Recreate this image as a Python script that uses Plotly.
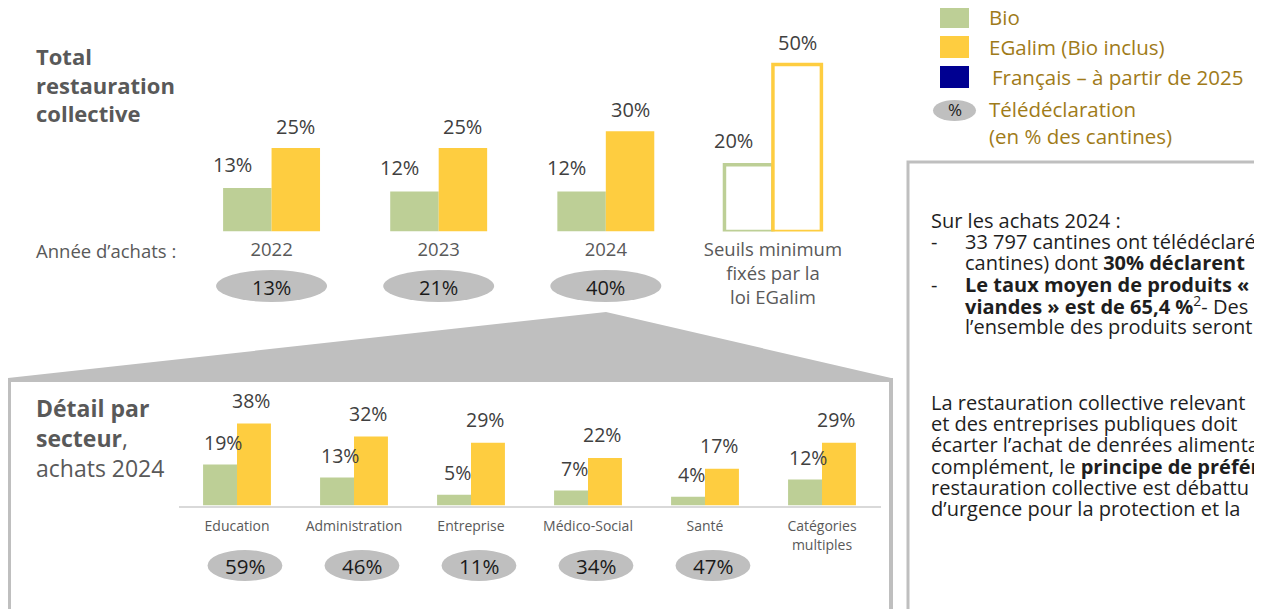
import plotly.graph_objects as go

# the page puts the figure 8px in from the top-left corner
OFF = 8
W, H = 1262 - OFF, 609 - OFF

# --- data ---
years = ["2022", "2023", "2024", "Seuils"]
year_labels = ["2022", "2023", "2024", "Seuils minimum<br>fixés par la<br>loi EGalim"]
bio_total = [13, 12, 12, 20]
egalim_total = [25, 25, 30, 50]
teledecl_total = [13, 21, 40]

sectors = ["Education", "Administration", "Entreprise", "Médico-Social", "Santé", "Catégories multiples"]
sector_labels = ["Education", "Administration", "Entreprise", "Médico-Social", "Santé", "Catégories<br>multiples"]
bio_sector = [19, 13, 5, 7, 4, 12]
egalim_sector = [38, 32, 29, 22, 17, 29]
teledecl_sector = [59, 46, 11, 34, 47]

legend_labels = ["Bio", "EGalim (Bio inclus)", "Français – à partir de 2025"]

GREEN = "#bdcf96"
YELLOW = "#fecd40"
NAVY = "#000091"
GREY = "#bfbfbf"
DARK = "#404040"
MID = "#595959"
GOLD = "#a07b19"
FONT = "Open Sans"


def px(x):
    return (x - OFF) / W


def py(y):
    return 1 - (y - OFF) / H


def note(x, y, text, size, color, xanchor="left", **kw):
    return dict(x=px(x), y=py(y), xref="paper", yref="paper", xanchor=xanchor, yanchor="middle",
                text=text, showarrow=False, font=dict(size=size, color=color), **kw)


fig = go.Figure()

# top chart: totals (last group = legal thresholds, drawn as outlines)
fill_bio = [GREEN] * 3 + ["white"]
fill_eg = [YELLOW] * 3 + ["white"]
fig.add_trace(go.Bar(x=years, y=bio_total, marker=dict(color=fill_bio, line=dict(color=GREEN, width=[0, 0, 0, 3.5])),
                     xaxis="x", yaxis="y", hoverinfo="skip"))
fig.add_trace(go.Bar(x=years, y=egalim_total, marker=dict(color=fill_eg, line=dict(color=YELLOW, width=[0, 0, 0, 3.5])),
                     xaxis="x", yaxis="y", hoverinfo="skip"))

# bottom chart: by sector
fig.add_trace(go.Bar(x=sectors, y=bio_sector, marker=dict(color=GREEN, line=dict(width=0)),
                     xaxis="x2", yaxis="y2", hoverinfo="skip"))
fig.add_trace(go.Bar(x=sectors, y=egalim_sector, marker=dict(color=YELLOW, line=dict(width=0)),
                     xaxis="x2", yaxis="y2", hoverinfo="skip"))

ann = []
shapes = []

# value labels, top
for i, v in enumerate(bio_total):
    ann.append(dict(x=i - 0.145, y=v, xref="x", yref="y", xanchor="center", yanchor="middle", text=f"{v}%",
                    showarrow=False, xshift=-15, yshift=24, font=dict(size=20, color=DARK)))
for i, v in enumerate(egalim_total):
    ann.append(dict(x=i + 0.145, y=v, xref="x", yref="y", xanchor="center", yanchor="middle", text=f"{v}%",
                    showarrow=False, yshift=22, font=dict(size=20, color=DARK)))

# value labels, bottom
for i, v in enumerate(bio_sector):
    ann.append(dict(x=i - 0.1175, y=v, xref="x2", yref="y2", xanchor="center", yanchor="middle", text=f"{v}%",
                    showarrow=False, yshift=22, font=dict(size=19.5, color=DARK)))
for i, v in enumerate(egalim_sector):
    ann.append(dict(x=i + 0.1175, y=v, xref="x2", yref="y2", xanchor="center", yanchor="middle", text=f"{v}%",
                    showarrow=False, yshift=23, font=dict(size=19.5, color=DARK)))

# connector band + detail box
path = "M {} {} L {} {} L {} {} L {} {} L {} {} Z".format(
    px(8), py(378), px(606), py(312), px(891), py(378), px(891), py(388), px(8), py(388))
shapes.append(dict(type="path", path=path, xref="paper", yref="paper", fillcolor=GREY, line=dict(width=0), layer="below"))
shapes.append(dict(type="rect", xref="paper", yref="paper", x0=px(9), x1=px(891), y0=py(380), y1=py(640),
                   fillcolor="white", line=dict(color=GREY, width=4), layer="below"))

# right text box
shapes.append(dict(type="rect", xref="paper", yref="paper", x0=px(908), x1=px(1290), y0=py(162), y1=py(640),
                   fillcolor="white", line=dict(color=GREY, width=3), layer="below"))

# télédéclaration ellipses, top
for i, v in enumerate(teledecl_total):
    shapes.append(dict(type="circle", xref="x", yref="paper", x0=i - 0.332, x1=i + 0.332,
                       y0=py(302), y1=py(270), fillcolor=GREY, line=dict(width=0)))
    ann.append(dict(x=i, y=py(287), xref="x", yref="paper", xanchor="center", yanchor="middle", text=f"{v}%",
                    showarrow=False, font=dict(size=20, color="#1a1a1a")))

# télédéclaration ellipses, bottom
for i, v in enumerate(teledecl_sector):
    c = i + 0.068
    shapes.append(dict(type="circle", xref="x2", yref="paper", x0=c - 0.32, x1=c + 0.32,
                       y0=py(581), y1=py(550), fillcolor=GREY, line=dict(width=0)))
    ann.append(dict(x=c, y=py(566), xref="x2", yref="paper", xanchor="center", yanchor="middle", text=f"{v}%",
                    showarrow=False, font=dict(size=20.5, color="#1a1a1a")))

# titles
ann.append(note(34, 84, "<b>Total<br>restauration<br>collective</b>", 22, MID, align="left"))
ann.append(note(34, 251, "Année d’achats :", 18.5, MID))
ann.append(note(34, 438, "<b>Détail par<br>secteur</b>,<br>achats 2024", 23, MID, align="left"))

# legend
leg_cols = [GREEN, YELLOW, NAVY]
leg_y = [17, 47, 77]
for lab, col, yy in zip(legend_labels, leg_cols, leg_y):
    shapes.append(dict(type="rect", xref="paper", yref="paper", x0=px(940), x1=px(969), y0=py(yy + 11), y1=py(yy - 11),
                       fillcolor=col, line=dict(width=0)))
    ann.append(note(987 if col != NAVY else 990, yy, lab, 20.5, GOLD))
shapes.append(dict(type="circle", xref="paper", yref="paper", x0=px(933), x1=px(976), y0=py(121), y1=py(100),
                   fillcolor=GREY, line=dict(width=0)))
ann.append(note(954.5, 110, "%", 17, "#1a1a1a", xanchor="center"))
ann.append(note(987, 109, "Télédéclaration", 20.5, GOLD))
ann.append(note(987, 136, "(en % des cantines)", 20.5, GOLD))

# right box text
box_lines = [
    (929, 220, "Sur les achats 2024 :"),
    (929, 241, "-"),
    (963, 241, "33 797 cantines ont télédéclaré"),
    (963, 262, "cantines) dont <b>30% déclarent</b>"),
    (929, 284, "-"),
    (963, 284, "<b>Le taux moyen de produits « </b>"),
    (963, 305, "<b>viandes » est de 65,4 %</b><sup>2</sup>- Des"),
    (963, 326, "l’ensemble des produits seront"),
    (929, 402, "La restauration collective relevant"),
    (929, 423, "et des entreprises publiques doit"),
    (929, 444, "écarter l’achat de denrées alimentaires"),
    (929, 466, "complément, le <b>principe de préférence</b>"),
    (929, 487, "restauration collective est débattu"),
    (929, 508, "d’urgence pour la protection et la"),
]
for x, y, t in box_lines:
    ann.append(note(x, y, t, 20, "#1e1e1e"))

fig.update_layout(
    width=W, height=H,
    margin=dict(l=0, r=0, t=0, b=0),
    paper_bgcolor="white", plot_bgcolor="rgba(0,0,0,0)",
    font=dict(family=FONT),
    showlegend=False,
    barmode="group",
    bargap=0.42, bargroupgap=0,
    xaxis=dict(domain=[px(188), px(856.5)], anchor="y", type="category",
               tickvals=years, ticktext=year_labels, ticks="", showline=False, showgrid=False,
               tickfont=dict(size=18.5, color=MID), ticklabelstandoff=5),
    yaxis=dict(domain=[py(231.5), py(31.1)], range=[0, 60], visible=False),
    xaxis2=dict(domain=[px(178.5), px(880.5)], anchor="y2", type="category",
                tickvals=sectors, ticktext=sector_labels, ticks="", showline=True, linecolor="#d9d9d9",
                linewidth=2, showgrid=False, tickfont=dict(size=14, color=MID), ticklabelstandoff=7),
    yaxis2=dict(domain=[py(505.5), py(397.5)], range=[0, 50], visible=False),
    annotations=ann,
    shapes=shapes,
)

fig.write_html("out.html")
